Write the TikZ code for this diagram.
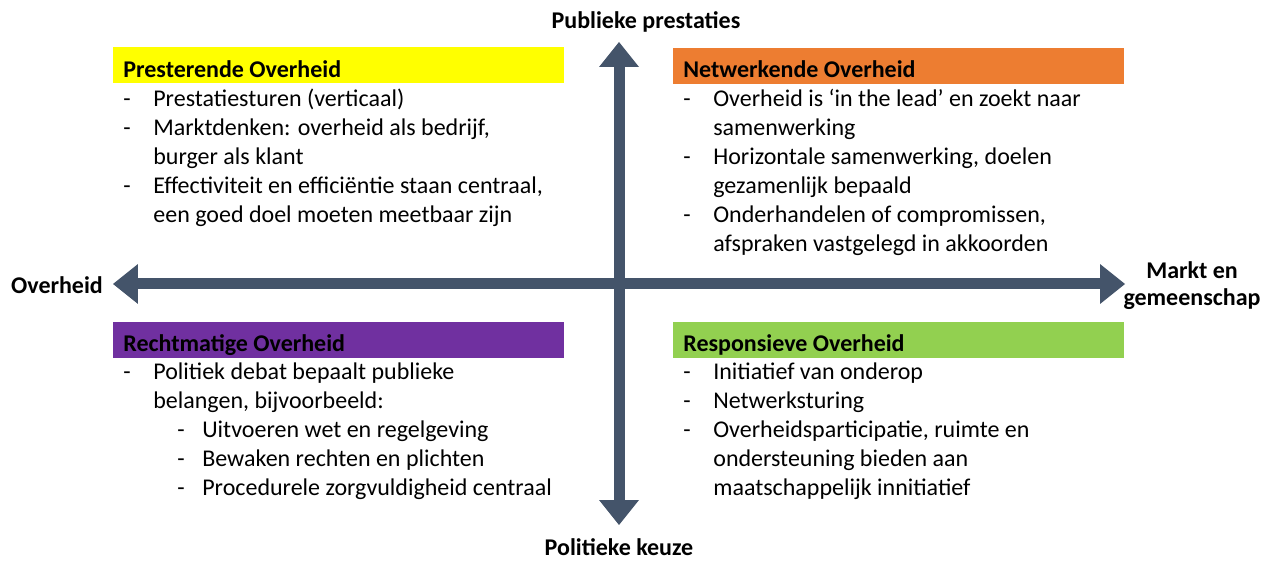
\documentclass[tikz,border=0pt]{standalone}
\usepackage{fontspec}
\setmainfont{Carlito}
\usetikzlibrary{arrows.meta}
\definecolor{axisBlue}{RGB}{68,84,106}
\definecolor{govYellow}{RGB}{255,255,0}
\definecolor{govOrange}{RGB}{237,125,49}
\definecolor{govPurple}{RGB}{112,48,160}
\definecolor{govGreen}{RGB}{146,208,80}
\newlength{\pxu}\setlength{\pxu}{0.02cm}
\newcommand{\bodyfont}{\fontsize{13.66pt}{16.5pt}\selectfont}
\newcommand{\subdash}[1]{\hspace*{24\pxu}\makebox[25\pxu][l]{-}#1}

\begin{document}
\begin{tikzpicture}[x=0.02cm, y=-0.02cm]
    % Styles
    \tikzstyle{quadhead} = [rectangle, anchor=north west, minimum width=9.02cm, minimum height=0.72cm, inner sep=0pt]
    \tikzstyle{quadtitle} = [anchor=base west, inner sep=0pt, font=\bodyfont\bfseries]
    \tikzstyle{quaditems} = [anchor=base west, inner sep=0pt, font=\bodyfont]
    \tikzstyle{axislabel} = [anchor=base, inner sep=0pt, font=\bodyfont\bfseries]
    \tikzstyle{axisarrow} = [draw=axisBlue, line width=0.22cm, {Triangle[width=0.8cm, length=0.5cm, line width=0pt]}-{Triangle[width=0.8cm, length=0.5cm, line width=0pt]}]

    \useasboundingbox (0,0) rectangle (1261,563);

    % Axes
    \coordinate (ytop) at (619,42);
    \coordinate (ybot) at (619,525);
    \coordinate (xleft) at (113,284);
    \coordinate (xright) at (1125,284);
    \draw[axisarrow] (ybot) -- (ytop);
    \draw[axisarrow] (xleft) -- (xright);

    \node[axislabel] (lblTop) at (646,29) {Publieke prestaties};
    \node[axislabel] (lblBot) at (619,556) {Politieke keuze};
    \node[axislabel] (lblLeft) at (57,294) {Overheid};
    \node[axislabel] (lblRightA) at (1192,279) {Markt en};
    \node[axislabel] (lblRightB) at (1192,306) {gemeenschap};

    % Presterende
    \node[quadhead, fill=govYellow] (presBox) at (113,47) {};
    \node[quadtitle] (presTitle) at (123,78) {Presterende Overheid};
    \node[quaditems] (presList) at (123,107) {\begin{tabular}[t]{@{}p{30\pxu}@{}l@{}}
        - & Prestatiesturen (verticaal)\\
        - & Marktdenken: overheid als bedrijf,\\
          & burger als klant\\
        - & Effectiviteit en efficiëntie staan centraal,\\
          & een goed doel moeten meetbaar zijn
    \end{tabular}};

    % Netwerkende
    \node[quadhead, fill=govOrange] (netBox) at (673,48) {};
    \node[quadtitle] (netTitle) at (683,78) {Netwerkende Overheid};
    \node[quaditems] (netList) at (683,107) {\begin{tabular}[t]{@{}p{30\pxu}@{}l@{}}
        - & Overheid is ‘in the lead’ en zoekt naar\\
          & samenwerking\\
        - & Horizontale samenwerking, doelen\\
          & gezamenlijk bepaald\\
        - & Onderhandelen of compromissen,\\
          & afspraken vastgelegd in akkoorden
    \end{tabular}};

    % Rechtmatige
    \node[quadhead, fill=govPurple] (rechtBox) at (113,322) {};
    \node[quadtitle] (rechtTitle) at (123,352) {Rechtmatige Overheid};
    \node[quaditems] (rechtList) at (123,380) {\begin{tabular}[t]{@{}p{30\pxu}@{}l@{}}
        - & Politiek debat bepaalt publieke\\
          & belangen, bijvoorbeeld:\\
          & \subdash{Uitvoeren wet en regelgeving}\\
          & \subdash{Bewaken rechten en plichten}\\
          & \subdash{Procedurele zorgvuldigheid centraal}
    \end{tabular}};

    % Responsieve
    \node[quadhead, fill=govGreen] (respBox) at (673,322) {};
    \node[quadtitle] (respTitle) at (683,352) {Responsieve Overheid};
    \node[quaditems] (respList) at (683,380) {\begin{tabular}[t]{@{}p{30\pxu}@{}l@{}}
        - & Initiatief van onderop\\
        - & Netwerksturing\\
        - & Overheidsparticipatie, ruimte en\\
          & ondersteuning bieden aan\\
          & maatschappelijk innitiatief
    \end{tabular}};
\end{tikzpicture}
\end{document}
